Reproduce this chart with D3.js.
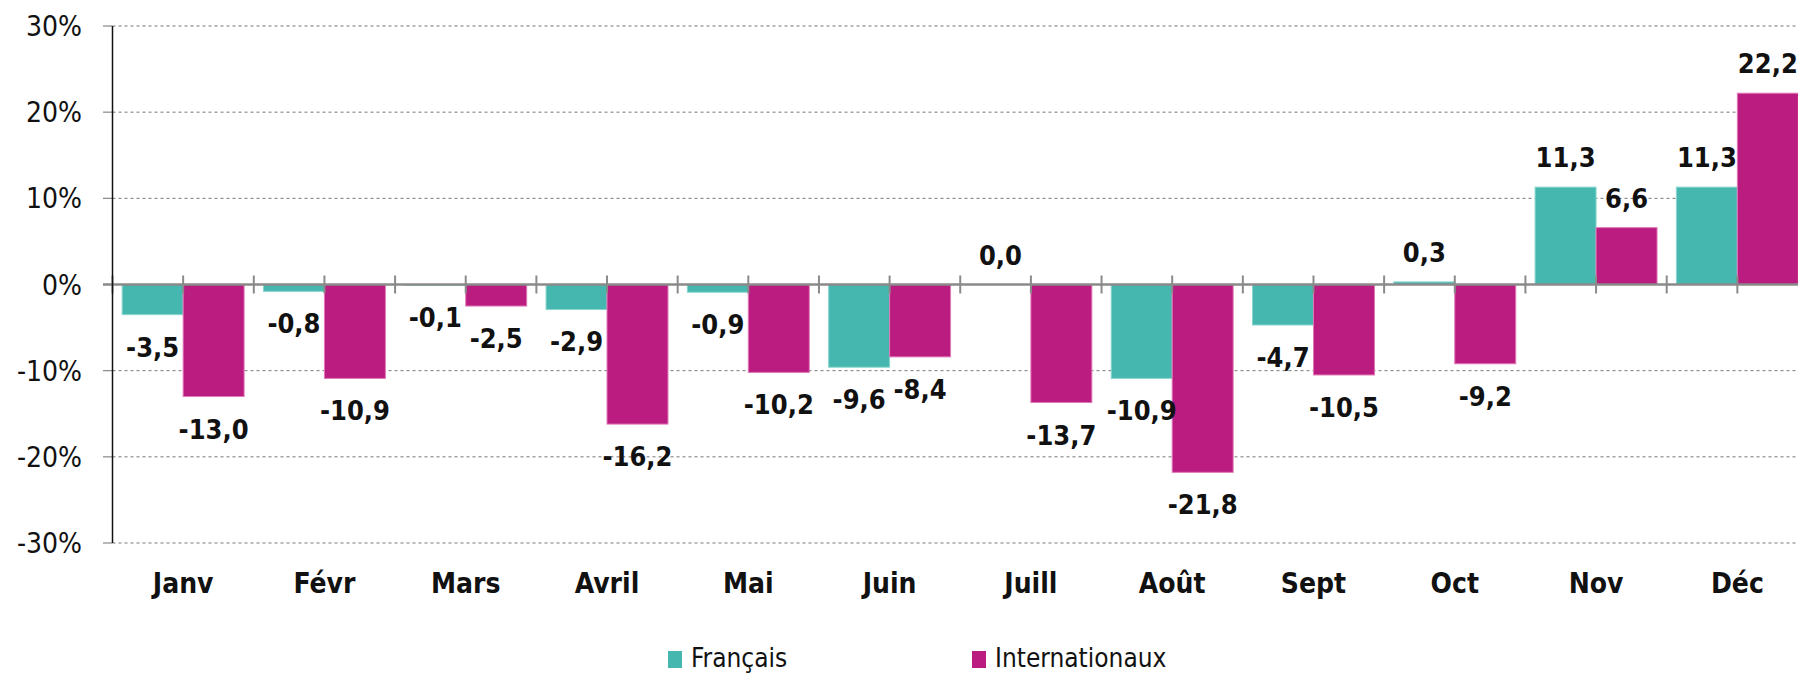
<!DOCTYPE html>
<html>
<head>
<meta charset="utf-8">
<script src="https://cdn.jsdelivr.net/npm/d3@7"></script>
<style>
  body { margin: 0; background: #fff; }
  svg { display: block; font-family: "DejaVu Sans Condensed", "DejaVu Sans", sans-serif; }
</style>
</head>
<body>
<div id="root"></div>
<script>
const months = ['Janv', 'Févr', 'Mars', 'Avril', 'Mai', 'Juin', 'Juill', 'Août', 'Sept', 'Oct', 'Nov', 'Déc']
const series = ['Français', 'Internationaux']
const francais = [-3.5, -0.8, -0.1, -2.9, -0.9, -9.6, 0.0, -10.9, -4.7, 0.3, 11.3, 11.3]
const internationaux = [-13.0, -10.9, -2.5, -16.2, -10.2, -8.4, -13.7, -21.8, -10.5, -9.2, 6.6, 22.2]
const yTicks = [-30, -20, -10, 0, 10, 20, 30]
const colors = ['#45b7ae', '#bb1c7f']
const strokes = ['#8ad6cf', '#e07ab8']

const width = 1798
const height = 676

const fr = d3.formatLocale({ decimal: ',', thousands: ' ', grouping: [3], currency: ['', ' €'], minus: '-' })
const fmt = fr.format('.1f')

const rows = months.map((m, i) => ({ month: m, values: [francais[i], internationaux[i]] }))

const svg = d3.select('#root').append('svg')
  .attr('width', width)
  .attr('height', height)

const y = d3.scaleLinear().domain([ -30, 30 ]).range([ 543, 26 ])
const x0 = d3.scaleBand().domain(months).range([ 112.5, 1808 ]).paddingInner(0.137).paddingOuter(0.0685)
const x1 = d3.scaleBand().domain(series).range([ 0, x0.bandwidth() ])
const half = (x0.step() - x0.bandwidth()) / 2

// grid
svg.append('g')
  .selectAll('line')
  .data(yTicks.filter(d => d !== 0))
  .enter()
  .append('line')
  .attr('x1', 112.5)
  .attr('x2', width)
  .attr('y1', d => y(d))
  .attr('y2', d => y(d))
  .attr('stroke', '#777')
  .attr('stroke-width', 1)
  .attr('stroke-dasharray', '3,3')

svg.append('g')
  .selectAll('line')
  .data(yTicks)
  .enter()
  .append('line')
  .attr('x1', 103)
  .attr('x2', 112.5)
  .attr('y1', d => y(d))
  .attr('y2', d => y(d))
  .attr('stroke', '#888')
  .attr('stroke-width', 1.2)

svg.append('g')
  .selectAll('text')
  .data(yTicks)
  .enter()
  .append('text')
  .attr('x', 82)
  .attr('y', d => y(d))
  .attr('dy', '0.36em')
  .attr('text-anchor', 'end')
  .attr('font-size', 28)
  .attr('fill', '#111')
  .text(d => d + '%')

// bars
const groups = svg.append('g')
  .selectAll('g')
  .data(rows)
  .enter()
  .append('g')
  .attr('transform', d => 'translate(' + x0(d.month) + ',0)')

groups.selectAll('rect')
  .data(d => d.values.map((v, i) => ({ key: series[i], v, i })))
  .enter()
  .append('rect')
  .attr('x', d => x1(d.key))
  .attr('width', x1.bandwidth())
  .attr('y', d => Math.min(y(d.v), y(0)))
  .attr('height', d => Math.abs(y(d.v) - y(0)))
  .attr('fill', d => colors[d.i])
  .attr('stroke', d => strokes[d.i])
  .attr('stroke-width', 1)

// zero line and ticks
svg.append('line')
  .attr('x1', 103)
  .attr('x2', width)
  .attr('y1', y(0))
  .attr('y2', y(0))
  .attr('stroke', '#8a8a8a')
  .attr('stroke-width', 2.6)

const tickXs = []
months.forEach(m => {
  tickXs.push(x0(m) - half)
  tickXs.push(x0(m) + x0.bandwidth() / 2)
})
svg.append('g')
  .selectAll('line')
  .data(tickXs)
  .enter()
  .append('line')
  .attr('x1', d => d)
  .attr('x2', d => d)
  .attr('y1', y(0) - 9)
  .attr('y2', y(0) + 9)
  .attr('stroke', '#8a8a8a')
  .attr('stroke-width', 2)

// y axis line
svg.append('line')
  .attr('x1', 112.5)
  .attr('x2', 112.5)
  .attr('y1', y(30))
  .attr('y2', y(-30))
  .attr('stroke', '#111')
  .attr('stroke-width', 1.5)

// value labels
groups.selectAll('text.val')
  .data(d => d.values.map((v, i) => ({ key: series[i], v, i })))
  .enter()
  .append('text')
  .attr('class', 'val')
  .attr('x', d => x1(d.key) + x1.bandwidth() / 2)
  .attr('y', d => d.v >= 0 ? y(d.v) - 20 : y(d.v) + 42)
  .attr('text-anchor', 'middle')
  .attr('font-size', 27)
  .attr('font-weight', 'bold')
  .attr('fill', '#111')
  .text(d => fmt(d.v))

// category labels
svg.append('g')
  .selectAll('text')
  .data(months)
  .enter()
  .append('text')
  .attr('x', d => x0(d) + x0.bandwidth() / 2)
  .attr('y', 593)
  .attr('text-anchor', 'middle')
  .attr('font-size', 28)
  .attr('font-weight', 'bold')
  .attr('fill', '#111')
  .text(d => d)

// legend
const legendX = [668, 972]
const legend = svg.append('g')
  .selectAll('g')
  .data(series)
  .enter()
  .append('g')
  .attr('transform', (d, i) => 'translate(' + legendX[i] + ',651)')

legend.append('rect')
  .attr('width', 14)
  .attr('height', 17)
  .attr('fill', (d, i) => colors[i])

legend.append('text')
  .attr('x', 23)
  .attr('y', 16)
  .attr('font-size', 26)
  .attr('fill', '#111')
  .text(d => d)
</script>
</body>
</html>
